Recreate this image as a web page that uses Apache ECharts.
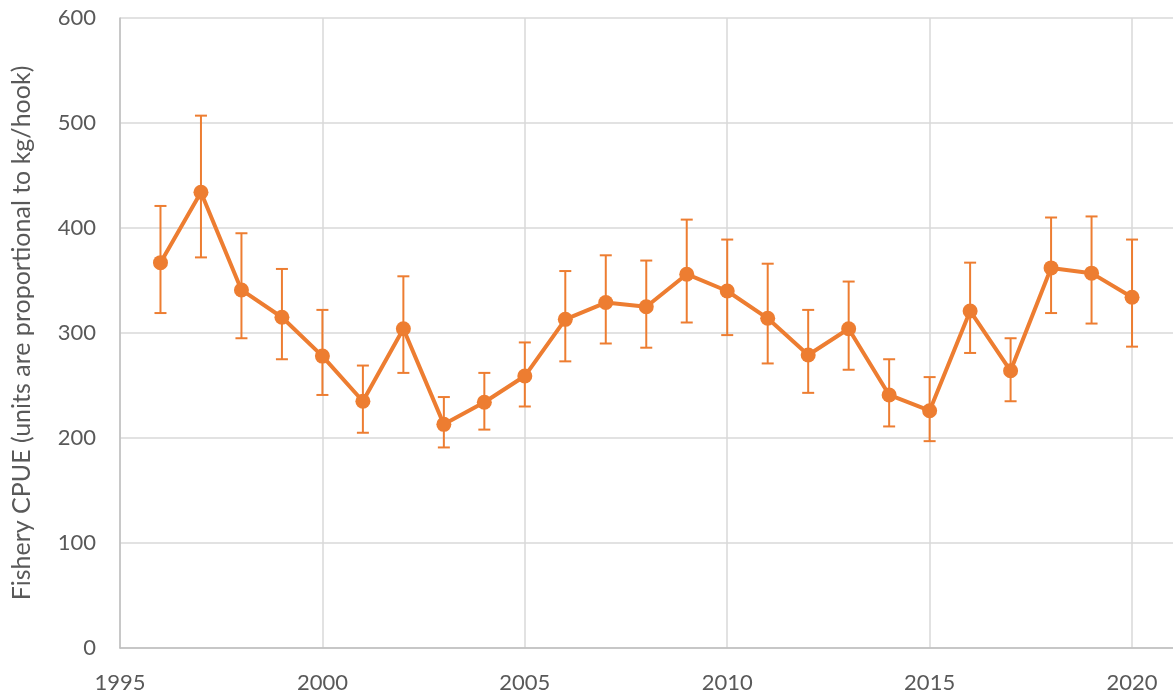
<!DOCTYPE html>
<html>
<head>
<meta charset="utf-8">
<script src="https://cdn.jsdelivr.net/npm/echarts@6/dist/echarts.min.js"></script>
<style>
  html, body { margin: 0; padding: 0; background: #fff; overflow: hidden; }
  #chart { width: 1173px; height: 700px; }
</style>
</head>
<body>
<div id="chart"></div>
<script>
// years and CPUE values
const years = [1996, 1997, 1998, 1999, 2000, 2001, 2002, 2003, 2004, 2005, 2006, 2007, 2008,
               2009, 2010, 2011, 2012, 2013, 2014, 2015, 2016, 2017, 2018, 2019, 2020];
const cpue  = [367, 434, 341, 315, 278, 235, 304, 213, 234, 259, 313, 329, 325,
               356, 340, 314, 279, 304, 241, 226, 321, 264, 362, 357, 334];
const upper = [421, 507, 395, 361, 322, 269, 354, 239, 262, 291, 359, 374, 369,
               408, 389, 366, 322, 349, 275, 258, 367, 295, 410, 411, 389];
const lower = [319, 372, 295, 275, 241, 205, 262, 191, 208, 230, 273, 290, 286,
               310, 298, 271, 243, 265, 211, 197, 281, 235, 319, 309, 287];

const orange = '#ED7D31';
const textColor = '#595959';
const fontName = 'Lato';

var chart = echarts.init(document.getElementById('chart'));

const lineData = years.map((y, i) => [y, cpue[i]]);
const errData = years.map((y, i) => [y, lower[i], upper[i]]);

var option = {
    animation: false,
    grid: {
        left: 120,
        right: -40,
        top: 18,
        bottom: 52,
        outerBoundsMode: 'none'
    },
    xAxis: {
        type: 'value',
        min: 1995,
        max: 2022,
        interval: 5,
        axisLine: { show: true, lineStyle: { color: '#BFBFBF', width: 1.5 } },
        axisTick: { show: false },
        splitLine: { show: true, lineStyle: { color: '#D9D9D9', width: 1.5 } },
        axisLabel: {
            color: textColor,
            fontFamily: fontName,
            fontSize: 22,
            margin: 24,
            formatter: v => (v % 5 === 0 ? String(v) : '')
        }
    },
    yAxis: {
        type: 'value',
        min: 0,
        max: 600,
        interval: 100,
        name: 'Fishery CPUE (units are proportional to kg/hook)',
        nameLocation: 'middle',
        nameGap: 86,
        nameTextStyle: { color: textColor, fontFamily: fontName, fontSize: 25 },
        axisLine: { show: true, lineStyle: { color: '#BFBFBF', width: 1.5 } },
        axisTick: { show: false },
        splitLine: { show: true, lineStyle: { color: '#D9D9D9', width: 1.5 } },
        axisLabel: {
            color: textColor,
            fontFamily: fontName,
            fontSize: 22,
            margin: 24
        }
    },
    series: [
        {
            name: 'error',
            type: 'custom',
            data: errData,
            z: 2,
            renderItem: function (params, api) {
                const x = api.value(0);
                const lo = api.coord([x, api.value(1)]);
                const hi = api.coord([x, api.value(2)]);
                const half = 6;
                const style = { stroke: orange, lineWidth: 2 };
                return {
                    type: 'group',
                    children: [
                        { type: 'line', shape: { x1: hi[0], y1: hi[1], x2: lo[0], y2: lo[1] }, style: style },
                        { type: 'line', shape: { x1: hi[0] - half, y1: hi[1], x2: hi[0] + half, y2: hi[1] }, style: style },
                        { type: 'line', shape: { x1: lo[0] - half, y1: lo[1], x2: lo[0] + half, y2: lo[1] }, style: style }
                    ]
                };
            }
        },
        {
            name: 'CPUE',
            type: 'line',
            data: lineData,
            z: 3,
            symbol: 'circle',
            symbolSize: 15,
            lineStyle: { color: orange, width: 4 },
            itemStyle: { color: orange }
        }
    ]
};

chart.setOption(option);
window.addEventListener('resize', chart.resize);
</script>
</body>
</html>
